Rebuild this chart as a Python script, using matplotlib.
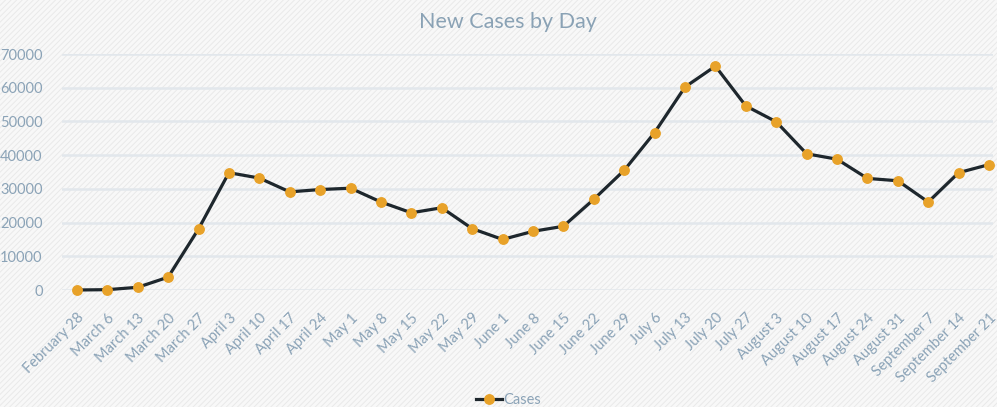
import matplotlib
matplotlib.use("Agg")
import matplotlib.pyplot as plt
from matplotlib.patches import Rectangle
from matplotlib.lines import Line2D

dates = ["February 28", "March 6", "March 13", "March 20", "March 27",
         "April 3", "April 10", "April 17", "April 24", "May 1", "May 8",
         "May 15", "May 22", "May 29", "June 1", "June 8", "June 15",
         "June 22", "June 29", "July 6", "July 13", "July 20", "July 27",
         "August 3", "August 10", "August 17", "August 24", "August 31",
         "September 7", "September 14", "September 21"]
cases = [0, 100, 800, 3800, 18100, 34800, 33200, 29100, 29800, 30200,
         26100, 22900, 24400, 18200, 15000, 17400, 18900, 26900, 35500,
         46700, 60200, 66400, 54600, 49900, 40400, 38800, 33100, 32400,
         26100, 34800, 37200]
yticks = [0, 10000, 20000, 30000, 40000, 50000, 60000, 70000]

W, H = 997, 407
fig = plt.figure(figsize=(W / 100, H / 100), dpi=100, facecolor="#F8F8F8")
plt.rcParams["hatch.linewidth"] = 0.7
plt.rcParams["hatch.color"] = "#E9E9E9"
bg = Rectangle((0, 0), 1, 1, transform=fig.transFigure, facecolor="#F8F8F8",
               edgecolor="#E9E9E9", hatch="//////", linewidth=0, zorder=-10)
fig.patches.append(bg)

left, right = 62 / W, 993 / W
bottom, top = (H - 290) / H, (H - 54) / H
ax = fig.add_axes([left, bottom, right - left, top - bottom])
ax.set_facecolor("none")

font = "Lato"
tc = "#8BA3B7"
x = list(range(len(dates)))
ax.plot(x, cases, color="#1E272D", linewidth=2.3, marker="o",
        markersize=6.8, markerfacecolor="#E8A229", markeredgecolor="#E8A229",
        clip_on=False, zorder=3, label="Cases")

ax.set_ylim(0, 70000)
ax.set_xlim(-0.49, 30.13)
ax.set_yticks(yticks)
ax.set_yticklabels([str(v) for v in yticks], fontsize=10.5, color=tc, family=font)
ax.grid(axis="y", color="#E2E7EC", linewidth=1.8)
ax.set_axisbelow(True)
for s in ax.spines.values():
    s.set_visible(False)
ax.tick_params(axis="both", length=0)
ax.tick_params(axis="y", pad=14)
ax.set_xticks(x)
ax.set_xticklabels(dates, rotation=45, ha="right", va="top",
                   rotation_mode="anchor", fontsize=10.5, color=tc, family=font)
ax.tick_params(axis="x", pad=15)

fig.text(0.509, (H - 22) / H, "New Cases by Day", ha="center", va="center",
         fontsize=15.5, color="#8AA2B5", family=font)

handle = Line2D([], [], color="#1E272D", linewidth=2.3, marker="o",
                markersize=6.8, markerfacecolor="#E8A229", markeredgecolor="#E8A229")
leg = fig.legend([handle], ["Cases"], loc="center", bbox_to_anchor=(0.51, (H - 400) / H),
                 frameon=False, handlelength=1.8, handletextpad=0.1,
                 prop={"family": font, "size": 10.5})
for t in leg.get_texts():
    t.set_color(tc)

fig.savefig("out.png", dpi=100, facecolor=fig.get_facecolor())
